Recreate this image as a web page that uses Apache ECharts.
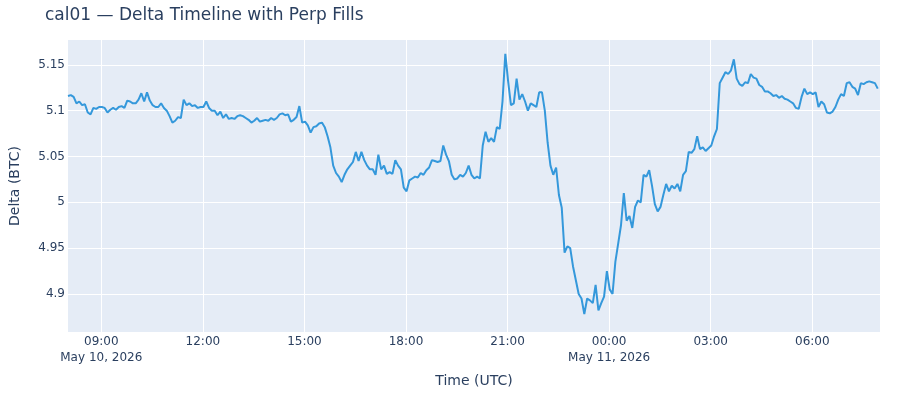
<!DOCTYPE html>
<html>
<head>
    <meta charset="utf-8">
    <title>cal01 — Delta Timeline with Perp Fills</title>
    <script src="https://cdn.jsdelivr.net/npm/echarts@6/dist/echarts.min.js"></script>
    <style>
        html, body { margin: 0; padding: 0; background: #fff; }
        #chart { width: 900px; height: 400px; }
    </style>
</head>
<body>
<div id="chart"></div>
<script>
// samples every 5 minutes, starting 2026-05-10 08:01 UTC
var startTime = Date.UTC(2026, 4, 10, 8, 1);
var endTime = Date.UTC(2026, 4, 11, 8, 0);
var stepMinutes = 5;

// May 10, 08:01 - 23:56 (one row per hour)
var deltaMay10 = [
    5.116, 5.117, 5.115, 5.108, 5.110, 5.106, 5.107, 5.098, 5.096, 5.103, 5.102, 5.104,
    5.104, 5.103, 5.098, 5.101, 5.103, 5.101, 5.104, 5.105, 5.103, 5.111, 5.110, 5.108,
    5.108, 5.112, 5.119, 5.110, 5.120, 5.111, 5.106, 5.104, 5.104, 5.108, 5.103, 5.100,
    5.094, 5.087, 5.089, 5.093, 5.092, 5.112, 5.106, 5.108, 5.105, 5.106, 5.103, 5.104,
    5.104, 5.110, 5.103, 5.100, 5.100, 5.095, 5.099, 5.092, 5.096, 5.091, 5.092, 5.091,
    5.094, 5.095, 5.094, 5.092, 5.090, 5.087, 5.089, 5.092, 5.088, 5.089, 5.090, 5.089,
    5.092, 5.090, 5.092, 5.096, 5.097, 5.095, 5.096, 5.088, 5.090, 5.093, 5.105, 5.087,
    5.088, 5.084, 5.076, 5.082, 5.083, 5.086, 5.087, 5.082, 5.072, 5.060, 5.040, 5.032,
    5.028, 5.022, 5.030, 5.036, 5.040, 5.044, 5.055, 5.045, 5.055, 5.046, 5.040, 5.036,
    5.036, 5.030, 5.052, 5.036, 5.040, 5.031, 5.033, 5.031, 5.046, 5.040, 5.036, 5.016,
    5.012, 5.024, 5.026, 5.028, 5.027, 5.032, 5.030, 5.035, 5.038, 5.046, 5.045, 5.044,
    5.045, 5.062, 5.052, 5.045, 5.030, 5.025, 5.026, 5.030, 5.028, 5.032, 5.040, 5.030,
    5.026, 5.028, 5.026, 5.062, 5.077, 5.066, 5.070, 5.066, 5.082, 5.080, 5.110, 5.162,
    5.132, 5.106, 5.108, 5.135, 5.112, 5.118, 5.110, 5.100, 5.108, 5.106, 5.104, 5.120,
    5.120, 5.100, 5.065, 5.040, 5.030, 5.038, 5.008, 4.994, 4.945, 4.952, 4.950, 4.930,
    4.915, 4.900, 4.895, 4.878, 4.895, 4.893, 4.890, 4.910, 4.882, 4.890, 4.897, 4.925
];

// May 11, 00:01 - 07:56
var deltaMay11 = [
    4.905, 4.900, 4.935, 4.955, 4.975, 5.010, 4.980, 4.985, 4.972, 4.995, 5.002, 5.000,
    5.030, 5.028, 5.035, 5.018, 4.998, 4.990, 4.995, 5.008, 5.020, 5.012, 5.018, 5.015,
    5.020, 5.012, 5.030, 5.034, 5.055, 5.054, 5.058, 5.072, 5.058, 5.060, 5.056, 5.059,
    5.062, 5.072, 5.080, 5.130, 5.136, 5.142, 5.140, 5.144, 5.156, 5.135, 5.129, 5.127,
    5.131, 5.130, 5.140, 5.136, 5.135, 5.128, 5.126, 5.121, 5.121, 5.119, 5.116, 5.117,
    5.114, 5.116, 5.113, 5.112, 5.110, 5.108, 5.103, 5.102, 5.115, 5.124, 5.118, 5.120,
    5.118, 5.120, 5.104, 5.110, 5.107, 5.098, 5.097, 5.099, 5.104, 5.112, 5.118, 5.116,
    5.130, 5.131, 5.126, 5.124, 5.117, 5.130, 5.129, 5.131, 5.132, 5.131, 5.130, 5.124
];

var xTickTimes = [
    '2026-05-10T09:00:00Z', '2026-05-10T12:00:00Z', '2026-05-10T15:00:00Z', '2026-05-10T18:00:00Z',
    '2026-05-10T21:00:00Z', '2026-05-11T00:00:00Z', '2026-05-11T03:00:00Z', '2026-05-11T06:00:00Z'
];
var xTickLabels = [
    '09:00\nMay 10, 2026', '12:00', '15:00', '18:00',
    '21:00', '00:00\nMay 11, 2026', '03:00', '06:00'
];
var yTicks = [4.9, 4.95, 5, 5.05, 5.1, 5.15];

var delta = deltaMay10.concat(deltaMay11);
var points = delta.map(function (v, i) {
    return [startTime + i * stepMinutes * 60000, v];
});
var xTickMs = xTickTimes.map(function (t) { return Date.parse(t); });

var font = '"DejaVu Sans", Verdana, sans-serif';
var ink = '#2a3f5f';

var myChart = echarts.init(document.getElementById('chart'), null, { renderer: 'canvas' });
myChart.setOption({
    animation: false,
    backgroundColor: '#fff',
    textStyle: { fontFamily: font, color: ink },
    title: {
        text: 'cal01 — Delta Timeline with Perp Fills',
        left: 45,
        top: 7,
        padding: 0,
        textStyle: { fontFamily: font, fontSize: 17, fontWeight: 'normal', color: ink }
    },
    grid: {
        left: 65.5,
        right: 20,
        top: 40,
        bottom: 68,
        show: true,
        backgroundColor: '#E5ECF6',
        borderWidth: 0
    },
    xAxis: {
        // time in UTC milliseconds, labelled by hand so the timezone of the browser does not matter
        type: 'value',
        min: startTime,
        max: endTime,
        name: 'Time (UTC)',
        nameLocation: 'middle',
        nameGap: 42,
        nameTextStyle: { fontFamily: font, fontSize: 14, color: ink },
        axisLine: { show: false },
        axisTick: { show: false, customValues: xTickMs },
        axisLabel: {
            customValues: xTickMs,
            margin: 2,
            fontFamily: font,
            fontSize: 12,
            lineHeight: 16,
            color: ink,
            formatter: function (val) {
                var i = xTickMs.indexOf(val);
                return i >= 0 ? xTickLabels[i] : '';
            }
        },
        splitLine: { show: true, lineStyle: { color: '#fff', width: 1 } }
    },
    yAxis: {
        type: 'value',
        min: 4.8585,
        max: 5.1771,
        name: 'Delta (BTC)',
        nameLocation: 'middle',
        nameGap: 46,
        nameTextStyle: { fontFamily: font, fontSize: 14, color: ink },
        axisLine: { show: false },
        axisTick: { show: false, customValues: yTicks },
        axisLabel: {
            customValues: yTicks,
            margin: 3,
            fontFamily: font,
            fontSize: 12,
            color: ink
        },
        splitLine: { show: true, lineStyle: { color: '#fff', width: 1 } }
    },
    series: [
        {
            name: 'Delta',
            type: 'line',
            data: points,
            showSymbol: false,
            lineStyle: { color: '#3498db', width: 2 },
            itemStyle: { color: '#3498db' }
        }
    ]
});
</script>
</body>
</html>
